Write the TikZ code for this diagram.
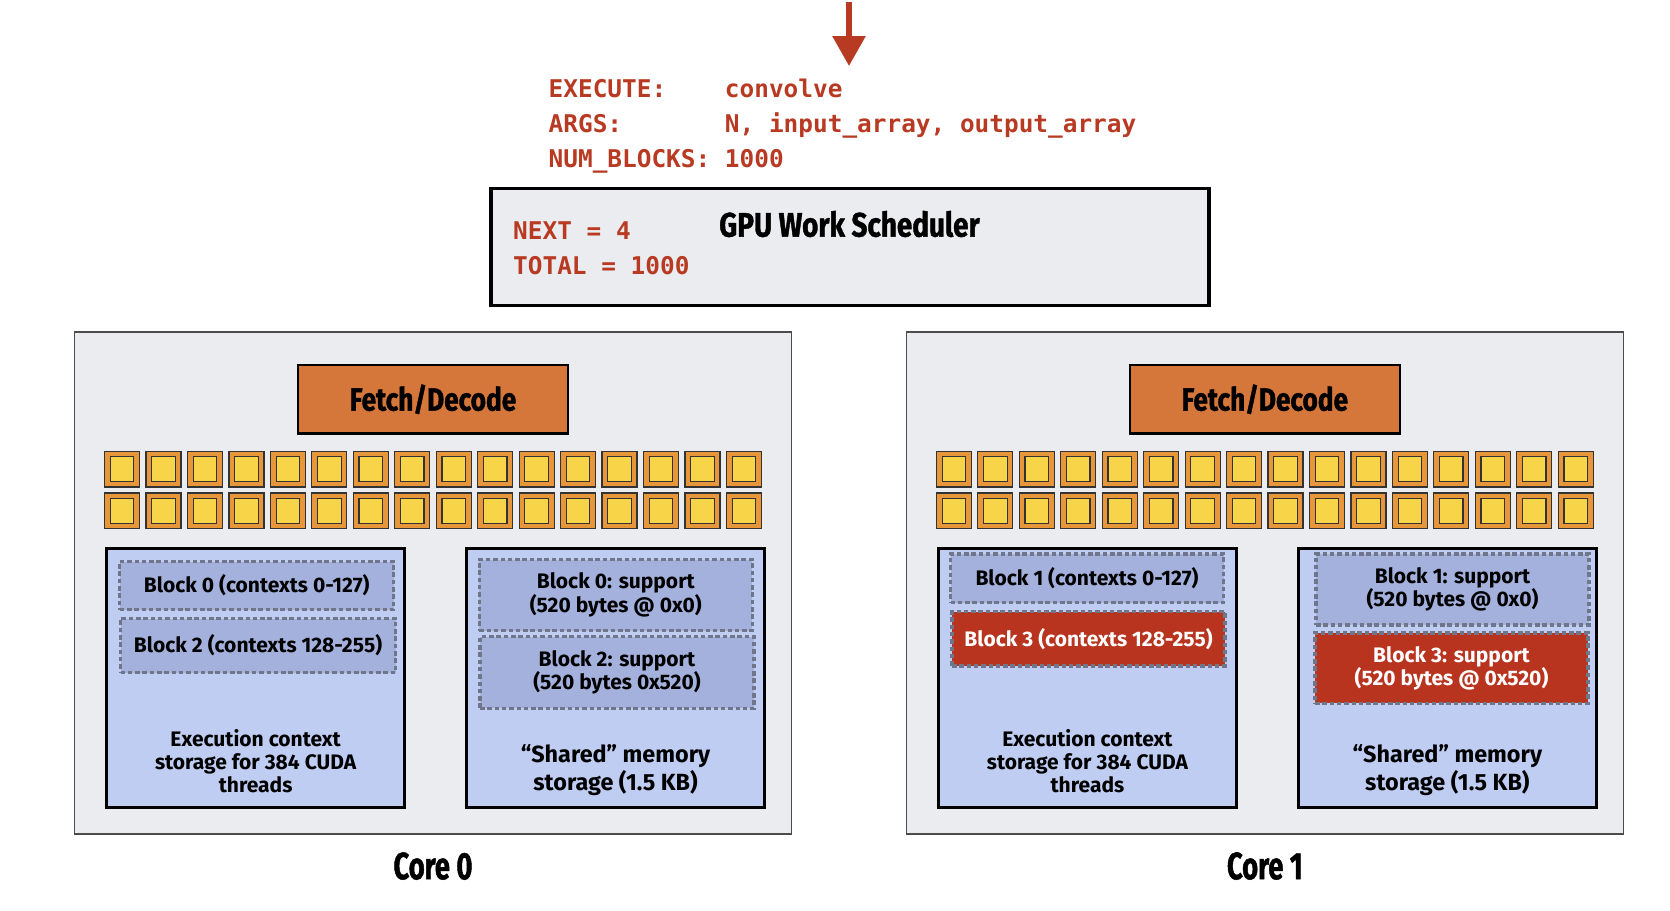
\documentclass[tikz,border=0pt]{standalone}
\usepackage{fontspec}
\setmainfont{Fira Sans}
\setmonofont{DejaVu Sans Mono}
\newfontfamily\condfont[FakeStretch=0.82,BoldFeatures={FakeBold=1.2}]{Fira Sans}
\newfontfamily\corefont[FakeStretch=0.72,BoldFeatures={FakeBold=1.2}]{Fira Sans}
\usetikzlibrary{arrows.meta}

\definecolor{gpured}{HTML}{B83A22}
\definecolor{framegray}{HTML}{EBECF0}
\definecolor{fetchorange}{HTML}{D5763A}
\definecolor{aluorange}{HTML}{E8963A}
\definecolor{aluyellow}{HTML}{F8D548}
\definecolor{ctxblue}{HTML}{BFCDF2}
\definecolor{blkblue}{HTML}{A3B1DC}
\definecolor{blkred}{HTML}{B8341F}
\definecolor{dashgray}{HTML}{6F7689}

\tikzset{
  cmdtext/.style={text=gpured, align=left, inner sep=0pt,
    font=\ttfamily\bfseries\fontsize{24.4bp}{35bp}\selectfont},
  titletext/.style={inner sep=0pt, font=\condfont\bfseries\fontsize{34bp}{36bp}\selectfont},
  sched/.style={draw=black, line width=3.5bp, fill=framegray,
    minimum width=718bp, minimum height=117bp},
  coreframe/.style={draw=black!70, line width=1.3bp, fill=framegray,
    minimum width=717bp, minimum height=502bp},
  fetch/.style={draw=black, line width=2.5bp, fill=fetchorange,
    minimum width=270bp, minimum height=68.5bp,
    font=\condfont\bfseries\fontsize{32bp}{36bp}\selectfont},
  alu/.style={draw=black!80, line width=1.2bp, fill=aluorange,
    minimum width=35bp, minimum height=35.5bp, inner sep=0pt},
  alucore/.style={draw=black!80, line width=1.2bp, fill=aluyellow,
    minimum width=23.5bp, minimum height=25bp, inner sep=0pt},
  storebox/.style={draw=black, line width=2.5bp, fill=ctxblue,
    minimum width=298bp, minimum height=259bp},
  blk/.style={draw=dashgray, line width=3.3bp, dash pattern=on 4.5bp off 2.8bp,
    fill=blkblue, align=center, inner sep=0pt,
    font=\bfseries\fontsize{21bp}{23.3bp}\selectfont},
  hotblk/.style={blk, fill=blkred, text=white},
  ctxtext/.style={align=center, inner sep=0pt,
    font=\bfseries\fontsize{21bp}{23.3bp}\selectfont},
  smemtext/.style={align=center, inner sep=0pt,
    font=\bfseries\fontsize{23.4bp}{28.5bp}\selectfont},
  corelabel/.style={inner sep=0pt, font=\corefont\bfseries\fontsize{38bp}{42bp}\selectfont}
}

\begin{document}
\begin{tikzpicture}[x=1bp,y=-1bp]
  \useasboundingbox (0,0) rectangle (1670,910);

  % kernel launch
  \coordinate (launch) at (849,2);
  \coordinate (launchtip) at (849,66);
  \draw[gpured, line width=6bp, -{Triangle[width=32bp,length=30bp]}] (launch) -- (launchtip);
  \node[cmdtext, anchor=west] (cmd) at (548.5,125) {%
    \begin{tabular}{@{}l@{\ }l@{}}
      EXECUTE: & convolve\\
      ARGS: & N, input\_array, output\_array\\
      NUM\_BLOCKS: & 1000
    \end{tabular}};

  % work scheduler
  \node[sched] (sched) at (850,247) {};
  \node[titletext] (schedtitle) at (849.5,224) {GPU Work Scheduler};
  \node[cmdtext, anchor=west] (schedvars) at (513,248.5) {NEXT = 4\\TOTAL = 1000};

  % the two cores
  \foreach \c/\cx in {0/433,1/1264.8}{
    \node[coreframe] (core\c) at (\cx,583) {};
    \node[fetch] (fetch\c) at (\cx,399.3) {Fetch/Decode};
    \foreach \r/\ry in {1/469.3,2/510.8}{
      \foreach \i in {0,...,15}{
        \node[alu] (alu\c-\r-\i) at ({\cx+(\i-7.5)*41.45},\ry) {};
        \node[alucore] (alucore\c-\r-\i) at (alu\c-\r-\i) {};
      }
    }
    \node[storebox] (ctx\c) at (\cx-177.4,678) {};
    \node[storebox] (smem\c) at (\cx+182.6,678) {};
    \node[ctxtext] (ctxtxt\c) at (\cx-177.4,761) {Execution context\\storage for 384 CUDA\\threads};
    \node[smemtext] (smemtxt\c) at (\cx+182.6,770) {“Shared” memory\\storage (1.5 KB)};
    \node[corelabel] (corelbl\c) at (\cx,866) {Core \c};
  }

  % blocks on core 0
  \node[blk, minimum width=274bp, minimum height=48bp] (blk0) at (256.7,585.5) {Block 0 (contexts 0-127)};
  \node[blk, minimum width=275bp, minimum height=54bp] (blk2) at (258,645.5) {Block 2 (contexts 128-255)};
  \node[blk, minimum width=273bp, minimum height=71bp] (blk0s) at (615.8,595) {Block 0: support\\(520 bytes @ 0x0)};
  \node[blk, minimum width=274bp, minimum height=71.5bp] (blk2s) at (617,672.5) {Block 2: support\\(520 bytes 0x520)};

  % blocks on core 1
  \node[blk, minimum width=273bp, minimum height=48.7bp] (blk1) at (1087,578.4) {Block 1 (contexts 0-127)};
  \node[hotblk, minimum width=273bp, minimum height=54.3bp] (blk3) at (1088.5,638.9) {Block 3 (contexts 128-255)};
  \node[blk, minimum width=273bp, minimum height=71bp] (blk1s) at (1452.5,589.5) {Block 1: support\\(520 bytes @ 0x0)};
  \node[hotblk, minimum width=273bp, minimum height=70.3bp] (blk3s) at (1451.5,668.2) {Block 3: support\\(520 bytes @ 0x520)};
\end{tikzpicture}
\end{document}
